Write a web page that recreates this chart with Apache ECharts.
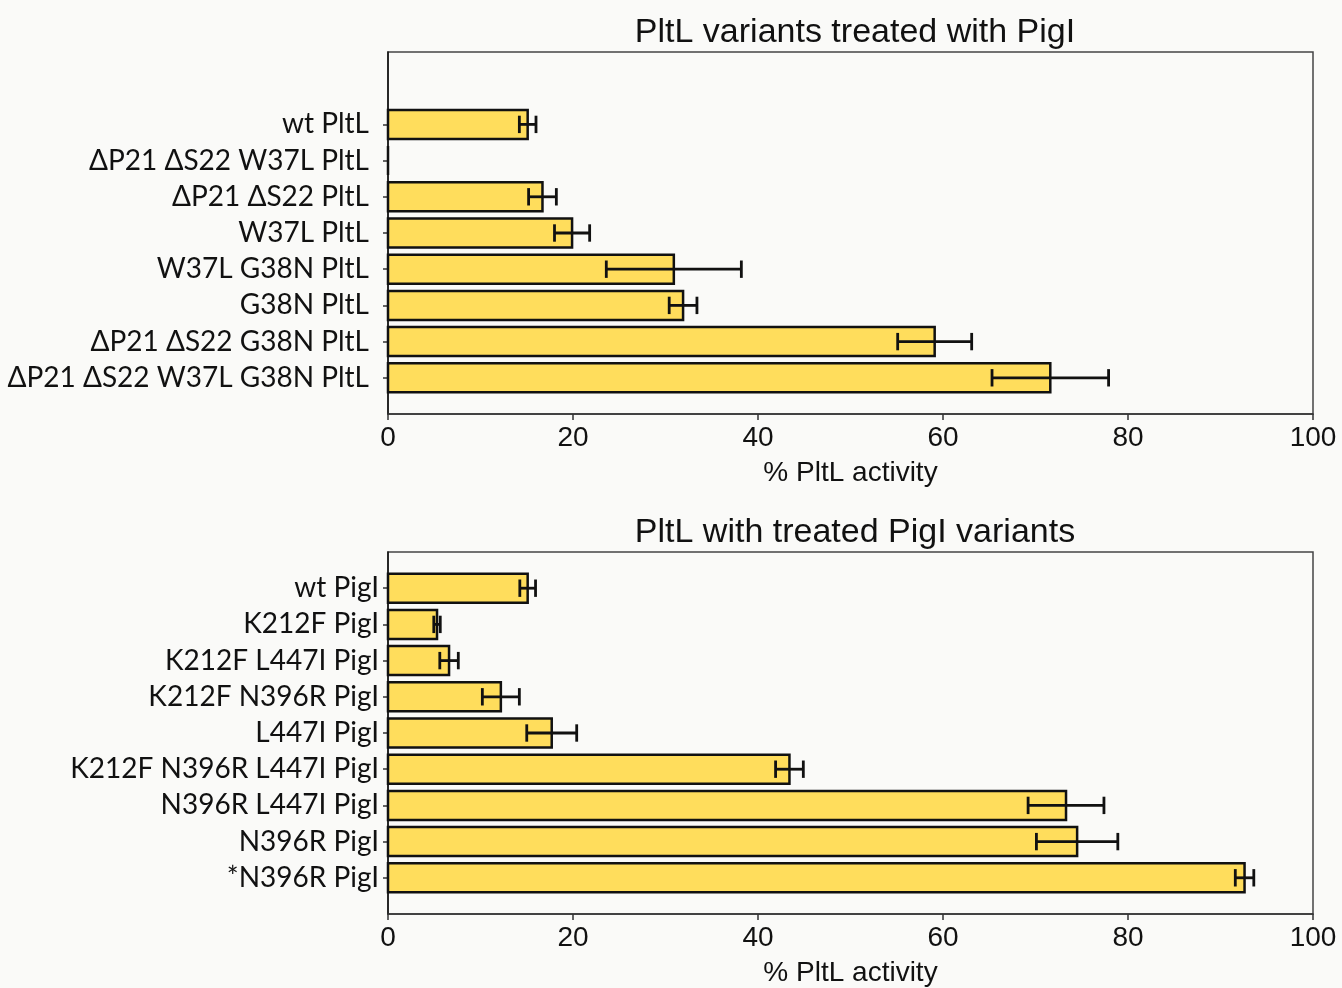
<!DOCTYPE html>
<html>
<head>
<meta charset="utf-8">
<script src="https://cdn.jsdelivr.net/npm/echarts@6/dist/echarts.min.js"></script>
<style>
  html, body { margin: 0; padding: 0; background: #fafaf8; }
  #chart { width: 1342px; height: 988px; }
</style>
</head>
<body>
<div id="chart"></div>
<script>
// top panel: PltL variants
const topCats = ['wt PltL', 'ΔP21 ΔS22 W37L PltL', 'ΔP21 ΔS22 PltL', 'W37L PltL', 'W37L G38N PltL',
  'G38N PltL', 'ΔP21 ΔS22 G38N PltL', 'ΔP21 ΔS22 W37L G38N PltL'];
const topVals = [15.1, 0, 16.7, 19.9, 30.9, 31.9, 59.1, 71.6];
const topErr = [0.9, 0, 1.5, 1.9, 7.3, 1.5, 4.0, 6.3];

// bottom panel: PigI variants
const botCats = ['wt PigI', 'K212F PigI', 'K212F L447I PigI', 'K212F N396R PigI', 'L447I PigI',
  'K212F N396R L447I PigI', 'N396R L447I PigI', 'N396R PigI', '*N396R PigI'];
const botVals = [15.1, 5.3, 6.6, 12.2, 17.7, 43.4, 73.3, 74.5, 92.6];
const botErr = [0.85, 0.35, 1.0, 2.0, 2.7, 1.5, 4.1, 4.4, 1.0];

const xTicks = [0, 20, 40, 60, 80, 100];

const titleFont = 'Liberation Sans, Arial, sans-serif';
const catFont = 'Lato, Open Sans, sans-serif';

function barItem(params, api) {
  const v = api.value(0), i = api.value(1);
  const p0 = api.coord([0, i]);
  const p1 = api.coord([v, i]);
  const h = api.size([0, 0.8])[1];
  return {
    type: 'rect',
    shape: { x: p0[0], y: p0[1] - h / 2, width: p1[0] - p0[0], height: h },
    style: { fill: '#ffdd5c', stroke: '#111', lineWidth: 2.5 }
  };
}

function errItem(params, api) {
  const v = api.value(0), i = api.value(1), e = api.value(2);
  if (!e) return null;
  const lo = api.coord([v - e, i]);
  const hi = api.coord([v + e, i]);
  const c = api.size([0, 0.24])[1];
  const st = { stroke: '#111', lineWidth: 2.8 };
  return {
    type: 'group',
    children: [
      { type: 'line', shape: { x1: lo[0], y1: lo[1], x2: hi[0], y2: hi[1] }, style: st },
      { type: 'line', shape: { x1: lo[0], y1: lo[1] - c, x2: lo[0], y2: lo[1] + c }, style: st },
      { type: 'line', shape: { x1: hi[0], y1: hi[1] - c, x2: hi[0], y2: hi[1] + c }, style: st }
    ]
  };
}

function xAxisFor(idx) {
  return {
    type: 'value', gridIndex: idx, min: 0, max: 100, interval: 20,
    name: '% PltL activity', nameLocation: 'middle', nameGap: 45,
    nameTextStyle: { fontFamily: titleFont, fontSize: 28, color: '#111' },
    axisLine: { show: true, onZero: false, lineStyle: { color: '#333', width: 1.5 } },
    axisTick: { show: true, inside: false, length: 6, lineStyle: { color: '#333', width: 1.5 } },
    axisLabel: { fontFamily: titleFont, fontSize: 28, color: '#111', margin: 10,
      customValues: xTicks },
    splitLine: { show: false }
  };
}

function yAxisFor(idx, cats, min, max, margin) {
  const ids = cats.map((c, i) => i);
  return {
    type: 'value', gridIndex: idx, inverse: true, min: min, max: max, interval: 1,
    axisLine: { show: true, onZero: false, lineStyle: { color: '#111', width: 1.5 } },
    axisTick: { show: true, length: 5, customValues: ids, lineStyle: { color: '#333', width: 1.5 } },
    axisLabel: { fontFamily: catFont, fontSize: 28, color: '#111', margin: margin,
      customValues: ids, formatter: v => cats[Math.round(v)] },
    splitLine: { show: false }
  };
}

const option = {
  backgroundColor: '#fafaf8',
  animation: false,
  title: [
    { text: 'PltL variants treated with PigI', left: 850, top: 11, textAlign: 'center',
      textStyle: { fontFamily: titleFont, fontSize: 34, fontWeight: 'normal', color: '#111' } },
    { text: 'PltL with treated PigI variants', left: 850, top: 511, textAlign: 'center',
      textStyle: { fontFamily: titleFont, fontSize: 34, fontWeight: 'normal', color: '#111' } }
  ],
  grid: [
    { left: 388, right: 29, top: 52, height: 362, show: true, borderColor: '#444', borderWidth: 1.5,
      backgroundColor: 'transparent' },
    { left: 388, right: 29, top: 552, height: 362, show: true, borderColor: '#444', borderWidth: 1.5,
      backgroundColor: 'transparent' }
  ],
  xAxis: [xAxisFor(0), xAxisFor(1)],
  yAxis: [yAxisFor(0, topCats, -2, 8, 19), yAxisFor(1, botCats, -1, 9, 9)],
  series: [
    { type: 'custom', xAxisIndex: 0, yAxisIndex: 0, renderItem: barItem, encode: { x: 0, y: 1 },
      data: topVals.map((v, i) => [v, i, topErr[i]]) },
    { type: 'custom', xAxisIndex: 0, yAxisIndex: 0, renderItem: errItem, encode: { x: 0, y: 1 },
      data: topVals.map((v, i) => [v, i, topErr[i]]) },
    { type: 'custom', xAxisIndex: 1, yAxisIndex: 1, renderItem: barItem, encode: { x: 0, y: 1 },
      data: botVals.map((v, i) => [v, i, botErr[i]]) },
    { type: 'custom', xAxisIndex: 1, yAxisIndex: 1, renderItem: errItem, encode: { x: 0, y: 1 },
      data: botVals.map((v, i) => [v, i, botErr[i]]) }
  ]
};

const chart = echarts.init(document.getElementById('chart'));
chart.setOption(option);
</script>
</body>
</html>
